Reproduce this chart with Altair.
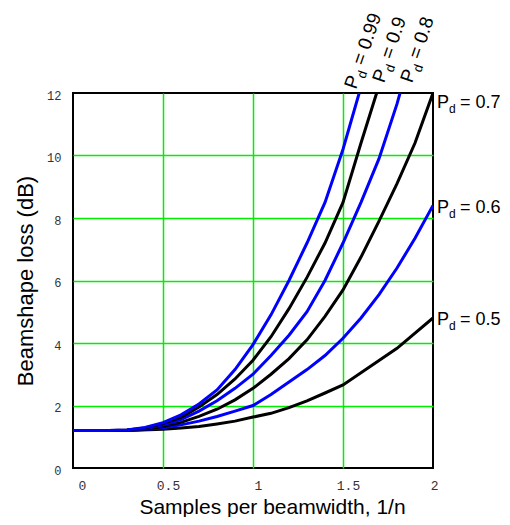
import altair as alt
import pandas as pd

# ---- data ----
pd_labels = ["0.5", "0.6", "0.7", "0.8", "0.9", "0.99"]
line_colors = ["#000000", "#0000ff", "#000000", "#0000ff", "#000000", "#0000ff"]

x_05 = [0, 0.3, 0.5, 0.6, 0.7, 0.8, 0.9, 1.0, 1.1, 1.2, 1.3, 1.4, 1.5, 1.8, 2.0]
y_05 = [1.2, 1.2, 1.24, 1.28, 1.33, 1.41, 1.5, 1.63, 1.75, 1.93, 2.15, 2.4, 2.66, 3.83, 4.8]

x_06 = [0, 0.3, 0.4, 0.5, 0.6, 0.7, 0.8, 0.9, 1.0, 1.1, 1.2, 1.3, 1.4, 1.5, 1.6, 1.7, 1.8, 1.9, 2.0]
y_06 = [1.2, 1.2, 1.23, 1.29, 1.38, 1.5, 1.65, 1.82, 2.0, 2.35, 2.75, 3.15, 3.6, 4.15, 4.8, 5.55, 6.4, 7.35, 8.4]

x_07 = [0, 0.3, 0.4, 0.5, 0.6, 0.7, 0.8, 0.9, 1.0, 1.1, 1.2, 1.3, 1.4, 1.5, 1.6, 1.7, 1.8, 1.9, 2.0]
y_07 = [1.2, 1.21, 1.24, 1.33, 1.46, 1.65, 1.88, 2.18, 2.55, 3.0, 3.5, 4.1, 4.85, 5.7, 6.75, 7.9, 9.1, 10.4, 12.0]

x_08 = [0, 0.3, 0.4, 0.5, 0.6, 0.7, 0.8, 0.9, 1.0, 1.1, 1.2, 1.3, 1.4, 1.5, 1.6, 1.7, 1.8, 1.817]
y_08 = [1.2, 1.21, 1.26, 1.38, 1.55, 1.82, 2.15, 2.55, 3.0, 3.6, 4.25, 5.0, 6.0, 7.2, 8.5, 9.9, 11.65, 12.0]

x_09 = [0, 0.2, 0.3, 0.4, 0.5, 0.6, 0.7, 0.8, 0.9, 1.0, 1.1, 1.2, 1.3, 1.4, 1.5, 1.6, 1.687]
y_09 = [1.2, 1.2, 1.22, 1.28, 1.42, 1.62, 1.95, 2.35, 2.85, 3.45, 4.2, 5.1, 6.1, 7.2, 8.5, 10.4, 12.0]

x_099 = [0, 0.2, 0.3, 0.4, 0.5, 0.6, 0.7, 0.8, 0.9, 1.0, 1.1, 1.2, 1.3, 1.4, 1.5, 1.59]
y_099 = [1.2, 1.2, 1.22, 1.3, 1.45, 1.7, 2.05, 2.5, 3.15, 3.95, 4.9, 6.0, 7.2, 8.5, 10.2, 12.0]

x_ticks = [0, 0.5, 1, 1.5, 2]
y_ticks = [0, 2, 4, 6, 8, 10, 12]

# label anchors (data units)
right_labels = ["0.7", "0.6", "0.5"]
right_label_y = [11.75, 8.4, 4.8]
top_labels = ["0.99", "0.9", "0.8"]
top_label_x = [1.572, 1.728, 1.883]
top_label_y = [12.1, 12.3, 12.3]

# ---- build tables ----
series = [(x_05, y_05), (x_06, y_06), (x_07, y_07), (x_08, y_08), (x_09, y_09), (x_099, y_099)]
rows = []
for i, (xs_, ys_) in enumerate(series):
    for j, (xv, yv) in enumerate(zip(xs_, ys_)):
        rows.append({"x": xv, "y": yv, "pd": pd_labels[i], "k": i * 100 + j})
df = pd.DataFrame(rows)

df_right = pd.DataFrame({"x": [2.0] * 3, "y": right_label_y, "P": ["P"] * 3, "d": ["d"] * 3,
                         "rest": ["= " + s for s in right_labels]})
df_top = pd.DataFrame({"x": top_label_x, "y": top_label_y, "P": ["P"] * 3, "d": ["d"] * 3,
                       "rest": ["= " + s for s in top_labels]})

xs = alt.Scale(domain=[0, 2], nice=False, zero=False)
ys = alt.Scale(domain=[0, 12], nice=False, zero=False)

GRID = "#00ee00"
TICKFONT = "Liberation Mono"
TITLEFONT = "Liberation Sans"

x_axis = alt.Axis(
    values=x_ticks, format="~g", grid=True, gridColor=GRID, gridWidth=1.5,
    gridOpacity={"condition": {"test": "datum.value <= 0 || datum.value >= 2", "value": 0}, "value": 1},
    ticks=False, domain=False,
    labelFont=TICKFONT, labelFontSize=13, labelColor="#333333", labelOffset=5, labelPadding=11,
    title="Samples per beamwidth, 1/n", titleFont=TITLEFONT, titleFontSize=21,
    titleFontWeight="normal", titleColor="black",
    titleX=199, titleY=49, titleBaseline="bottom")
y_axis = alt.Axis(
    values=y_ticks, format="d", grid=True, gridColor=GRID, gridWidth=1.5,
    gridOpacity={"condition": {"test": "datum.value <= 0 || datum.value >= 12", "value": 0}, "value": 1},
    ticks=False, domain=False,
    labelFont=TICKFONT, labelFontSize=12, labelColor="#333333", labelOffset=2, labelPadding=12,
    title="Beamshape loss (dB)", titleFont=TITLEFONT, titleFontSize=22,
    titleFontWeight="normal", titleColor="black",
    titleX=-48, titleY=187.5, titleAngle=270, titleBaseline="middle")

xe = alt.X("x:Q", scale=xs, axis=x_axis)
ye = alt.Y("y:Q", scale=ys, axis=y_axis)

lines = alt.Chart(df).mark_line(strokeWidth=3, clip=True).encode(
    x=xe, y=ye,
    color=alt.Color("pd:N", scale=alt.Scale(domain=pd_labels, range=line_colors), legend=None),
    order="k:Q",
)

FS = 18
SUB = 12
lab_font = "Liberation Sans"

rP = alt.Chart(df_right).mark_text(align="left", baseline="alphabetic", dx=4, dy=7,
                                   fontSize=FS, font=lab_font, color="black").encode(
    x=xe, y=ye, text="P:N")
rd = alt.Chart(df_right).mark_text(align="left", baseline="alphabetic", dx=16, dy=12,
                                   fontSize=SUB, font=lab_font, color="black").encode(
    x=xe, y=ye, text="d:N")
rr = alt.Chart(df_right).mark_text(align="left", baseline="alphabetic", dx=27, dy=7,
                                   fontSize=FS, font=lab_font, color="black").encode(
    x=xe, y=ye, text="rest:N")

ANG = 289
tP = alt.Chart(df_top).mark_text(align="left", baseline="alphabetic", angle=ANG, dx=0, dy=0,
                                 fontSize=FS + 1, font=lab_font, color="black").encode(
    x=xe, y=ye, text="P:N")
td = alt.Chart(df_top).mark_text(align="left", baseline="alphabetic", angle=ANG, dx=13, dy=5,
                                 fontSize=SUB + 1, font=lab_font, color="black").encode(
    x=xe, y=ye, text="d:N")
tr = alt.Chart(df_top).mark_text(align="left", baseline="alphabetic", angle=ANG, dx=25, dy=0,
                                 fontSize=FS + 1, font=lab_font, color="black").encode(
    x=xe, y=ye, text="rest:N")

chart = alt.layer(lines, rP, rd, rr, tP, td, tr).properties(
    width=360, height=375,
    autosize=alt.AutoSizeParams(type="none"),
    padding={"left": 65, "top": 85, "right": 69, "bottom": 49},
).configure_view(
    stroke="black", strokeWidth=2
)

chart.save("out.html", embed_options={"renderer": "svg", "actions": False})
